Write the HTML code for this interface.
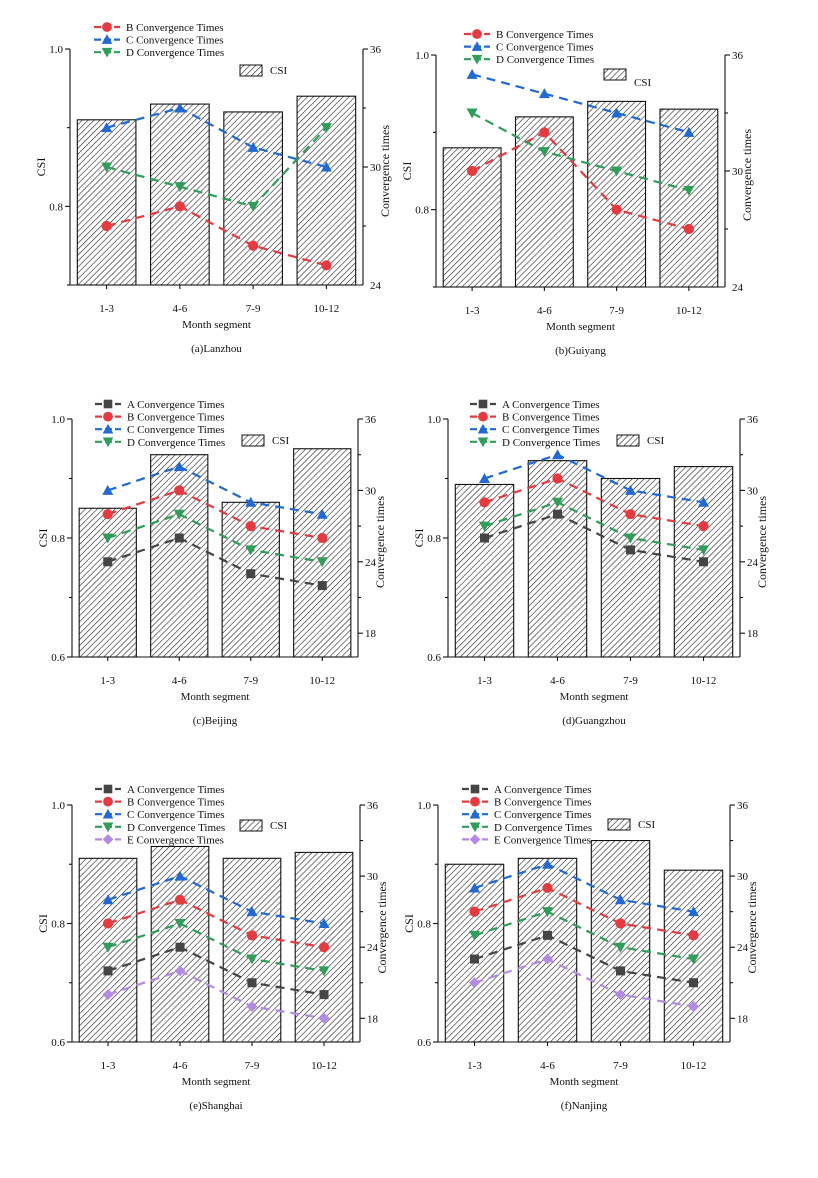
<!DOCTYPE html>
<html><head><meta charset="utf-8">
<style>
html,body{margin:0;padding:0;background:#fff;}
svg{display:block;font-family:"Liberation Serif",serif;}
</style></head>
<body>
<svg id="chart" width="818" height="1178" viewBox="0 0 818 1178" xmlns="http://www.w3.org/2000/svg">
<defs>
<pattern id="hatch" patternUnits="userSpaceOnUse" width="4.2" height="4.2" patternTransform="rotate(45)">
<rect width="4.2" height="4.2" fill="#fff"/>
<line x1="0" y1="0" x2="0" y2="4.2" stroke="#111" stroke-width="1.1"/>
</pattern>
</defs>
</svg>
<script>
const categories = ["1-3","4-6","7-9","10-12"];
const seriesNames = ["A","B","C","D","E"];
// (a) Lanzhou
const lanzhouCSI = [0.91, 0.93, 0.92, 0.94];
const lanzhouB = [27, 28, 26, 25];
const lanzhouC = [32, 33, 31, 30];
const lanzhouD = [30, 29, 28, 32];
// (b) Guiyang
const guiyangCSI = [0.88, 0.92, 0.94, 0.93];
const guiyangB = [30, 32, 28, 27];
const guiyangC = [35, 34, 33, 32];
const guiyangD = [33, 31, 30, 29];
// (c) Beijing
const beijingCSI = [0.85, 0.94, 0.86, 0.95];
const beijingA = [24, 26, 23, 22];
const beijingB = [28, 30, 27, 26];
const beijingC = [30, 32, 29, 28];
const beijingD = [26, 28, 25, 24];
// (d) Guangzhou
const guangzhouCSI = [0.89, 0.93, 0.90, 0.92];
const guangzhouA = [26, 28, 25, 24];
const guangzhouB = [29, 31, 28, 27];
const guangzhouC = [31, 33, 30, 29];
const guangzhouD = [27, 29, 26, 25];
// (e) Shanghai
const shanghaiCSI = [0.91, 0.93, 0.91, 0.92];
const shanghaiA = [22, 24, 21, 20];
const shanghaiB = [26, 28, 25, 24];
const shanghaiC = [28, 30, 27, 26];
const shanghaiD = [24, 26, 23, 22];
const shanghaiE = [20, 22, 19, 18];
// (f) Nanjing
const nanjingCSI = [0.90, 0.91, 0.94, 0.89];
const nanjingA = [23, 25, 22, 21];
const nanjingB = [27, 29, 26, 25];
const nanjingC = [29, 31, 28, 27];
const nanjingD = [25, 27, 24, 23];
const nanjingE = [21, 23, 20, 19];
const csiTicksAB = [0.8, 1.0];
const csiTicksCF = [0.6, 0.8, 1.0];
const convTicksAB = [24, 30, 36];
const convTicksCF = [18, 24, 30, 36];

const NS = "http://www.w3.org/2000/svg";
const svg = document.getElementById('chart');
const COLORS = {A:"#454545",B:"#e83a3e",C:"#1f6ad8",D:"#2e9e58",E:"#b58ae6"};

function el(tag, attrs, parent, text){
  const e = document.createElementNS(NS, tag);
  for (const k in attrs) e.setAttribute(k, attrs[k]);
  if (text !== undefined) e.textContent = text;
  (parent||svg).appendChild(e);
  return e;
}

function marker(g, s, x, y, r){
  const c = COLORS[s];
  let m;
  if (s==="A") m = el('rect',{x:x-r,y:y-r,width:2*r,height:2*r,fill:c},g);
  else if (s==="B") m = el('circle',{cx:x,cy:y,r:r+0.6,fill:c},g);
  else if (s==="C") m = el('polygon',{points:`${x},${y-r-1} ${x-r-1},${y+r} ${x+r+1},${y+r}`,fill:c},g);
  else if (s==="D") m = el('polygon',{points:`${x},${y+r+1} ${x-r-1},${y-r} ${x+r+1},${y-r}`,fill:c},g);
  else m = el('polygon',{points:`${x},${y-r-1} ${x+r+1},${y} ${x},${y+r+1} ${x-r-1},${y}`,fill:c},g);
  return m;
}

function panel(p){
  const g = el('g',{});
  
  
  const band = (p.R - p.L)/categories.length;
  const xs = i => p.L + band*(i+0.5);
  const yCSI = v => p.bot - (v - p.csiMin)/(1.0 - p.csiMin)*(p.bot - p.top);
  const yConv = v => p.bot - (v - p.convMin)/(36 - p.convMin)*(p.bot - p.top);
  const bw = band*0.8;
  // bars
  p.csi.forEach((v,i)=>{
    const b = el('rect',{x:xs(i)-bw/2,y:yCSI(v),width:bw,height:p.bot-yCSI(v),fill:"url(#hatch)",stroke:"#111","stroke-width":1.1},g);
    
    
  });
  // lines
  p.series.forEach(([s,vals])=>{
    const sg = el('g',{},g);
    
    
    const pts = vals.map((v,i)=>`${xs(i)},${yConv(v)}`).join(' ');
    el('polyline',{points:pts,fill:"none",stroke:COLORS[s],"stroke-width":2.2,"stroke-dasharray":"9,6"},sg);
    vals.forEach((v,i)=>{
      const m = marker(sg,s,xs(i),yConv(v),4.5);
      
      
    });
  });
  // axes
  const ax = el('g',{stroke:"#111","stroke-width":1.1},g);
  
  
  el('line',{x1:p.L,y1:p.top,x2:p.L,y2:p.bot},ax);
  el('line',{x1:p.R,y1:p.top,x2:p.R,y2:p.bot},ax);
  el('line',{x1:p.L,y1:p.bot,x2:p.R,y2:p.bot},ax);
  categories.forEach((c,i)=>{
    el('line',{x1:xs(i),y1:p.bot,x2:xs(i),y2:p.bot+4},ax);
    const t = el('text',{x:xs(i),y:p.bot+27,"text-anchor":"middle","font-size":11,fill:"#111"},g,c);
    
    
  });
  // left ticks
  for (let v=p.csiMin; v<=1.0001; v+=0.1){
    const major = p.csiTicks.some(t=>Math.abs(t-v)<1e-6);
    el('line',{x1:p.L,y1:yCSI(v),x2:p.L-(major?5:3),y2:yCSI(v)},ax);
  }
  p.csiTicks.forEach(v=>{
    const t = el('text',{x:p.L-7,y:yCSI(v)+4,"text-anchor":"end","font-size":11,fill:"#111"},g,v.toFixed(1));
    
    
  });
  for (let v=36; v>=p.convMin+0.001; v-=3){
    const major = p.convTicks.includes(v);
    el('line',{x1:p.R,y1:yConv(v),x2:p.R+(major?5:3),y2:yConv(v)},ax);
  }
  p.convTicks.forEach(v=>{
    const t = el('text',{x:p.R+7,y:yConv(v)+4,"font-size":11,fill:"#111"},g,String(v));
    
    
  });
  // axis titles
  const mid = (p.top+p.bot)/2;
  const yt = el('text',{x:p.L-25,y:mid,"text-anchor":"middle","font-size":12,fill:"#111",transform:`rotate(-90 ${p.L-25} ${mid})`},g,"CSI");
  
  
  const rt = el('text',{x:p.R+26,y:mid+4,"text-anchor":"middle","font-size":12,fill:"#111",transform:`rotate(-90 ${p.R+26} ${mid+4})`},g,"Convergence times");
  
  
  const xt = el('text',{x:(p.L+p.R)/2,y:p.bot+43,"text-anchor":"middle","font-size":11,fill:"#111"},g,"Month segment");
  
  
  const cap = el('text',{x:(p.L+p.R)/2,y:p.bot+67,"text-anchor":"middle","font-size":11,fill:"#111"},g,p.caption);
  
  
  // legend
  p.series.forEach(([s],k)=>{
    const lg = el('g',{},g);
    
    
    const ly = p.legY + k*12.6;
    el('line',{x1:p.legX-13,y1:ly,x2:p.legX+13,y2:ly,stroke:COLORS[s],"stroke-width":2.2,"stroke-dasharray":"7,3"},lg);
    marker(lg,s,p.legX,ly,4.3);
    el('text',{x:p.legX+19,y:ly+4,"font-size":11,fill:"#111"},lg,s+" Convergence Times");
  });
  const cl = el('g',{},g);
  
  
  el('rect',{x:p.csiX,y:p.csiY,width:22,height:11,fill:"url(#hatch)",stroke:"#111","stroke-width":1},cl);
  el('text',{x:p.csiX+30,y:p.csiY+p.csiTextDy,"font-size":11,fill:"#111"},cl,"CSI");
}

panel({name:'panel-lanzhou',caption:'(a)Lanzhou',L:70,R:363,top:49,bot:285,csiMin:0.7,convMin:24,csiTicks:csiTicksAB,convTicks:convTicksAB,
  csi:lanzhouCSI,series:[["B",lanzhouB],["C",lanzhouC],["D",lanzhouD]],legX:107,legY:27,csiX:240,csiY:65,csiTextDy:9});
panel({name:'panel-guiyang',caption:'(b)Guiyang',L:436,R:725,top:55,bot:287,csiMin:0.7,convMin:24,csiTicks:csiTicksAB,convTicks:convTicksAB,
  csi:guiyangCSI,series:[["B",guiyangB],["C",guiyangC],["D",guiyangD]],legX:477,legY:34,csiX:604,csiY:69,csiTextDy:17});
panel({name:'panel-beijing',caption:'(c)Beijing',L:72,R:358,top:419,bot:657,csiMin:0.6,convMin:16,csiTicks:csiTicksCF,convTicks:convTicksCF,
  csi:beijingCSI,series:[["A",beijingA],["B",beijingB],["C",beijingC],["D",beijingD]],legX:108,legY:404,csiX:242,csiY:435,csiTextDy:9});
panel({name:'panel-guangzhou',caption:'(d)Guangzhou',L:448,R:740,top:419,bot:657,csiMin:0.6,convMin:16,csiTicks:csiTicksCF,convTicks:convTicksCF,
  csi:guangzhouCSI,series:[["A",guangzhouA],["B",guangzhouB],["C",guangzhouC],["D",guangzhouD]],legX:483,legY:404,csiX:617,csiY:435,csiTextDy:9});
panel({name:'panel-shanghai',caption:'(e)Shanghai',L:72,R:360,top:805,bot:1042,csiMin:0.6,convMin:16,csiTicks:csiTicksCF,convTicks:convTicksCF,
  csi:shanghaiCSI,series:[["A",shanghaiA],["B",shanghaiB],["C",shanghaiC],["D",shanghaiD],["E",shanghaiE]],legX:108,legY:789,csiX:240,csiY:820,csiTextDy:9});
panel({name:'panel-nanjing',caption:'(f)Nanjing',L:438,R:730,top:805,bot:1042,csiMin:0.6,convMin:16,csiTicks:csiTicksCF,convTicks:convTicksCF,
  csi:nanjingCSI,series:[["A",nanjingA],["B",nanjingB],["C",nanjingC],["D",nanjingD],["E",nanjingE]],legX:475,legY:789,csiX:608,csiY:819,csiTextDy:9});
</script>
</body></html>
